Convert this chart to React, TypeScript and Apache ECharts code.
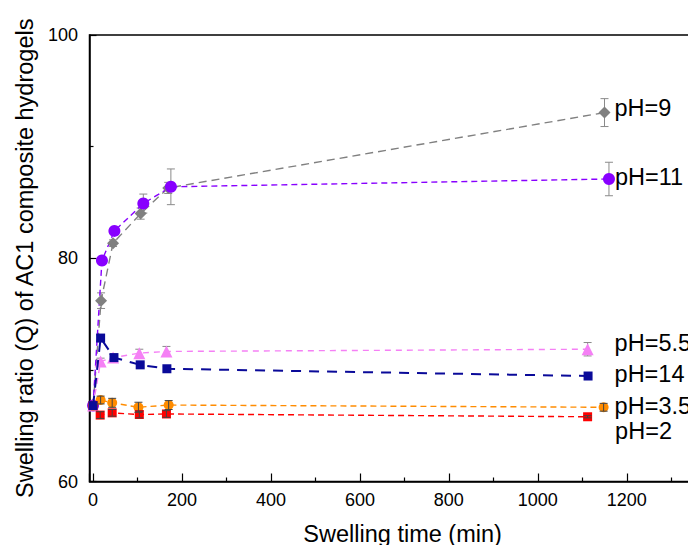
import React, { useEffect, useRef } from "react";
import * as echarts from "echarts";

const xTitle = "Swelling time (min)";
const yTitle = "Swelling ratio (Q) of AC1 composite hydrogels";

const namePH9 = "pH=9";
const timesPH9 = [0, 18, 45, 107, 169, 1150];
const valuesPH9 = [66.8, 76.2, 81.35, 84.0, 86.3, 93.05];
const errPH9 = [0, 0.7, 0.3, 0.5, 0.5, 1.25];

const namePH11 = "pH=11";
const timesPH11 = [0, 20, 48, 113, 175, 1160];
const valuesPH11 = [66.8, 79.8, 82.45, 84.9, 86.4, 87.1];
const errPH11 = [0, 0.3, 0.3, 0.85, 1.6, 1.5];

const namePH55 = "pH=5.5";
const timesPH55 = [0, 17, 45, 104, 165, 1112];
const valuesPH55 = [66.8, 70.75, 71.1, 71.5, 71.65, 71.85];
const errPH55 = [0, 0.3, 0.3, 0.35, 0.45, 0.6];

const namePH14 = "pH=14";
const timesPH14 = [0, 17, 47, 106, 166, 1113];
const valuesPH14 = [66.8, 72.85, 71.1, 70.45, 70.1, 69.45];
const errPH14 = [0, 0.3, 0.3, 0.2, 0.2, 0.1];

const namePH35 = "pH=3.5";
const timesPH35 = [0, 17, 43, 102, 170, 1148];
const valuesPH35 = [66.8, 67.3, 67.05, 66.65, 66.85, 66.65];
const errPH35 = [0, 0.35, 0.4, 0.45, 0.4, 0.35];

const namePH2 = "pH=2";
const timesPH2 = [0, 16, 43, 104, 165, 1112];
const valuesPH2 = [66.8, 65.95, 66.15, 66.0, 66.05, 65.8];
const errPH2 = [0, 0.3, 0.3, 0.3, 0.3, 0.1];

const FONT = "'Liberation Sans', Arial, sans-serif";

type Cfg = {
  name: string;
  times: number[];
  values: number[];
  errs: number[];
  color: string;
  symbol: string;
  size: number;
  dash: number[];
  width: number;
  errColor: string;
  errOnTop: boolean;
  z: number;
  labelDistance: number;
  labelOffset: number[];
};

const configs: Cfg[] = [
  { name: namePH9, times: timesPH9, values: valuesPH9, errs: errPH9, color: "#808080", symbol: "diamond", size: 12, dash: [8, 5], width: 1.4, errColor: "#8a8a8a", errOnTop: false, z: 3, labelDistance: 4, labelOffset: [0, -5] },
  { name: namePH11, times: timesPH11, values: valuesPH11, errs: errPH11, color: "#8800ff", symbol: "circle", size: 12, dash: [6, 4], width: 1.4, errColor: "#8a8a8a", errOnTop: false, z: 3, labelDistance: 0, labelOffset: [0, -2] },
  { name: namePH55, times: timesPH55, values: valuesPH55, errs: errPH55, color: "#f580f5", symbol: "triangle", size: 12, dash: [6, 5], width: 1.4, errColor: "#8a8a8a", errOnTop: false, z: 3, labelDistance: 21, labelOffset: [0, -6.5] },
  { name: namePH14, times: timesPH14, values: valuesPH14, errs: errPH14, color: "#0a0a99", symbol: "rect", size: 9, dash: [10, 8], width: 2, errColor: "#8a8a8a", errOnTop: false, z: 4, labelDistance: 22, labelOffset: [0, -2] },
  { name: namePH35, times: timesPH35, values: valuesPH35, errs: errPH35, color: "#ff8c00", symbol: "circle", size: 10, dash: [6, 4], width: 1.4, errColor: "#444444", errOnTop: true, z: 3, labelDistance: 6, labelOffset: [0, -1.5] },
  { name: namePH2, times: timesPH2, values: valuesPH2, errs: errPH2, color: "#ff0000", symbol: "rect", size: 9, dash: [6, 4], width: 1.4, errColor: "#444444", errOnTop: true, z: 3, labelDistance: 23, labelOffset: [0, 14] },
];

export default function App() {
  const ref = useRef<HTMLDivElement>(null);
  useEffect(() => {
    if (!ref.current) return;
    const chart = echarts.init(ref.current, null, { renderer: "svg" });
    const series: any[] = [];
    configs.forEach((c) => {
      const n = c.times.length;
      const data = c.times.map((t, i) => {
        if (i === n - 1) {
          return {
            value: [t, c.values[i]],
            label: {
              show: true,
              formatter: c.name,
              position: "right",
              distance: c.labelDistance,
              offset: c.labelOffset,
              color: "#000",
              fontSize: 23.5,
              lineHeight: 19,
              fontFamily: FONT,
            },
          };
        }
        return [t, c.values[i]];
      });
      const errData = c.times
        .map((t, i) => [t, c.values[i] - c.errs[i], c.values[i] + c.errs[i], c.errs[i]])
        .filter((d) => d[3] > 0);
      series.push({
        type: "custom",
        name: c.name + " err",
        z: c.errOnTop ? 5 : 1,
        data: errData,
        encode: { x: 0, y: [1, 2] },
        renderItem: (params: any, api: any) => {
          const x = api.value(0);
          const lo = api.coord([x, api.value(1)]);
          const hi = api.coord([x, api.value(2)]);
          const w = 4;
          const st = { stroke: c.errColor, lineWidth: 1 };
          return {
            type: "group",
            children: [
              { type: "line", shape: { x1: lo[0], y1: lo[1], x2: hi[0], y2: hi[1] }, style: st },
              { type: "line", shape: { x1: lo[0] - w, y1: lo[1], x2: lo[0] + w, y2: lo[1] }, style: st },
              { type: "line", shape: { x1: hi[0] - w, y1: hi[1], x2: hi[0] + w, y2: hi[1] }, style: st },
            ],
          };
        },
      });
      series.push({
        type: "line",
        name: c.name,
        z: c.z,
        data,
        symbol: c.symbol,
        symbolSize: c.size,
        showAllSymbol: true,
        itemStyle: { color: c.color, borderWidth: 0 },
        lineStyle: { color: c.color, width: c.width, type: c.dash },
        emphasis: { disabled: true },
      });
    });

    chart.setOption({
      animation: false,
      backgroundColor: "#fff",
      textStyle: { fontFamily: FONT },
      grid: {
        left: 89.5,
        width: 626.2,
        top: 35,
        height: 446.5,
        outerBoundsMode: "none",
        containLabel: false,
        show: true,
        borderColor: "#000",
        borderWidth: 1.5,
        backgroundColor: "transparent",
      },
      xAxis: {
        type: "value",
        min: -8,
        max: 1400,
        splitNumber: 7,
        name: xTitle,
        nameLocation: "middle",
        nameGap: 40,
        nameTextStyle: { fontSize: 23.5, color: "#000", fontFamily: FONT },
        axisLine: { show: true, onZero: false, lineStyle: { color: "#000", width: 1.5 } },
        axisTick: { show: true, inside: true, length: 8, lineStyle: { color: "#000", width: 1.2 } },
        minorTick: { show: true, splitNumber: 2, length: 4, lineStyle: { color: "#000", width: 1.2 } },
        axisLabel: {
          fontSize: 18,
          color: "#000",
          margin: 9,
          showMinLabel: false,
          showMaxLabel: false,
          fontFamily: FONT,
          formatter: (v: number) => String(v),
        },
        splitLine: { show: false },
        minorSplitLine: { show: false },
      },
      yAxis: {
        type: "value",
        min: 60,
        max: 100,
        interval: 20,
        name: yTitle,
        nameLocation: "middle",
        nameGap: 50.5,
        nameTextStyle: { fontSize: 23.5, color: "#000", fontFamily: FONT },
        axisLine: { show: true, onZero: false, lineStyle: { color: "#000", width: 1.5 } },
        axisTick: { show: true, inside: true, length: 7, lineStyle: { color: "#000", width: 1.2 } },
        minorTick: { show: true, splitNumber: 2, length: 4, lineStyle: { color: "#000", width: 1.2 } },
        axisLabel: { fontSize: 18, color: "#000", margin: 11.5, fontFamily: FONT },
        splitLine: { show: false },
        minorSplitLine: { show: false },
      },
      series,
    });
    return () => chart.dispose();
  }, []);
  return (
    <div
      ref={ref}
      style={{ position: "fixed", left: 0, top: 0, width: 688, height: 545, background: "#fff" }}
    />
  );
}
